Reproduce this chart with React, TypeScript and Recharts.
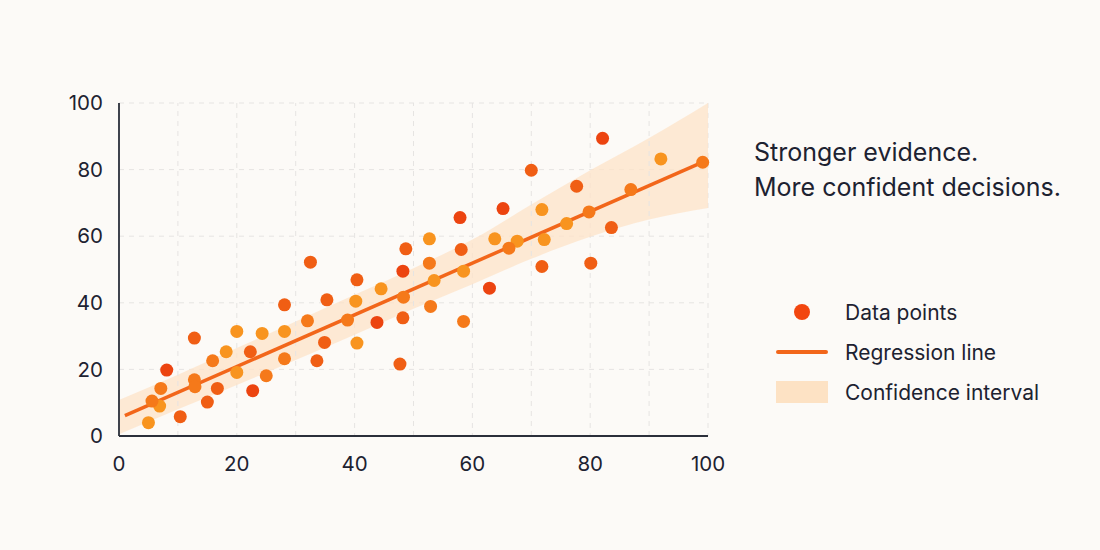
import React, { useEffect } from 'react';
import { ComposedChart, Scatter, Line, Area, XAxis, YAxis, CartesianGrid, ReferenceLine } from 'recharts';

// Axis ticks
const xTicks = [0, 20, 40, 60, 80, 100];
const yTicks = [0, 20, 40, 60, 80, 100];
const minorGridX = [10, 30, 50, 70, 90];

// Observations, grouped by dot shade (x, y)
const redPoints = [
  [8.1, 19.8], [22.7, 13.6], [43.8, 34.1], [57.9, 65.6], [62.9, 44.4],
  [65.2, 68.3], [82.1, 89.4], [48.2, 49.5],
];
const redOrangePoints = [
  [10.4, 5.8], [12.8, 29.4], [15.0, 10.2], [16.7, 14.3], [22.3, 25.3],
  [28.1, 39.4], [32.5, 52.2], [33.6, 22.6], [34.9, 28.1], [35.3, 40.9],
  [40.4, 46.9], [47.7, 21.6], [48.2, 35.5], [48.7, 56.2], [58.1, 56.0],
  [70.0, 79.8], [71.8, 50.9], [77.7, 75.0], [80.1, 51.9], [83.6, 62.6],
];
const orangePoints = [
  [5.6, 10.5], [7.1, 14.3], [12.8, 16.9], [12.9, 14.8], [15.9, 22.6],
  [25.0, 18.1], [28.1, 23.2], [32.0, 34.6], [38.8, 34.8], [48.3, 41.7],
  [52.7, 51.9], [52.9, 38.9], [58.5, 34.4], [66.2, 56.4], [79.8, 67.3],
  [86.9, 74.0], [99.1, 82.2],
];
const amberPoints = [
  [5.0, 4.0], [6.9, 9.0], [18.2, 25.3], [20.0, 31.4], [20.0, 19.1],
  [24.3, 30.8], [28.1, 31.4], [40.2, 40.5], [40.4, 27.9], [44.5, 44.2],
  [52.7, 59.2], [53.5, 46.7], [58.5, 49.5], [63.8, 59.2], [67.6, 58.5],
  [71.8, 68.0], [72.2, 59.0], [76.0, 63.8], [92.0, 83.2],
];

// Fitted line end points
const regressionX = [1, 99];
const regressionY = [6.1, 82.2];

// Confidence band
const bandX = [0, 10, 20, 30, 40, 50, 60, 70, 80, 90, 100];
const bandLow = [0.5, 8.0, 15.3, 22.8, 30.4, 38.2, 45.6, 53.2, 59.8, 65.0, 68.5];
const bandHigh = [10.8, 18.4, 26.4, 34.4, 42.4, 50.4, 59.0, 69.5, 79.8, 89.5, 100];

const toXY = (pts: number[][]) => pts.map(([x, y]) => ({ x, y }));
const lineData = regressionX.map((x, i) => ({ x, y: regressionY[i] }));
const bandData = bandX.map((x, i) => ({ x, band: [bandLow[i], bandHigh[i]] }));

const BG = '#FCFAF7';
const INK = '#1d2231';
const AXIS = '#2b2f3a';
const FONT = 'Inter, "Noto Sans", sans-serif';

const dot = (color: string, r = 6.5) => (props: any) => (
  <circle cx={props.cx} cy={props.cy} r={r} fill={color} />
);

const App: React.FC = () => {
  useEffect(() => {
    document.body.style.margin = '0';
    document.body.style.background = BG;
  }, []);

  return (
    <div style={{ position: 'relative', width: 1100, height: 550, background: BG, fontFamily: FONT, overflow: 'hidden' }}>
      <ComposedChart width={1100} height={550} margin={{ top: 103, right: 392, bottom: 84, left: 59 }}>
        <CartesianGrid stroke="#E6E4E2" strokeDasharray="5 5" />
        {minorGridX.map(v => (
          <ReferenceLine key={v} x={v} stroke="#E6E4E2" strokeDasharray="5 5" />
        ))}
        <XAxis
          type="number"
          dataKey="x"
          domain={[0, 100]}
          ticks={xTicks}
          height={30}
          tickLine={false}
          tickMargin={14}
          axisLine={{ stroke: AXIS, strokeWidth: 1.8 }}
          tick={{ fill: INK, fontSize: 20.5, fontFamily: FONT }}
        />
        <YAxis
          type="number"
          dataKey="y"
          domain={[0, 100]}
          ticks={yTicks}
          width={60}
          tickLine={false}
          tickMargin={10}
          axisLine={{ stroke: AXIS, strokeWidth: 1.8 }}
          tick={{ fill: INK, fontSize: 20.5, fontFamily: FONT }}
        />
        <Area
          data={bandData}
          dataKey="band"
          type="monotone"
          stroke="none"
          fill="#FDE3C8"
          fillOpacity={0.75}
          isAnimationActive={false}
        />
        <Line
          data={lineData}
          dataKey="y"
          type="linear"
          stroke="#F2661A"
          strokeWidth={3.5}
          dot={false}
          activeDot={false}
          isAnimationActive={false}
        />
        <Scatter data={toXY(amberPoints)} fill="#F8941F" shape={dot('#F8941F')} isAnimationActive={false} />
        <Scatter data={toXY(orangePoints)} fill="#F5791A" shape={dot('#F5791A')} isAnimationActive={false} />
        <Scatter data={toXY(redOrangePoints)} fill="#F05E14" shape={dot('#F05E14')} isAnimationActive={false} />
        <Scatter data={toXY(redPoints)} fill="#EC4410" shape={dot('#EC4410')} isAnimationActive={false} />
      </ComposedChart>

      <div style={{ position: 'absolute', left: 754, top: 135, fontSize: 25, lineHeight: '35px', color: INK }}>
        <div>Stronger evidence.</div>
        <div>More confident decisions.</div>
      </div>

      <div style={{ position: 'absolute', left: 776, top: 292, fontSize: 21, color: INK }}>
        <div style={{ display: 'flex', alignItems: 'center', height: 40 }}>
          <div style={{ width: 52, display: 'flex', justifyContent: 'center' }}>
            <div style={{ width: 16, height: 16, borderRadius: 8, background: '#F2460F' }} />
          </div>
          <span style={{ marginLeft: 17 }}>Data points</span>
        </div>
        <div style={{ display: 'flex', alignItems: 'center', height: 40 }}>
          <div style={{ width: 52, height: 4, borderRadius: 2, background: '#F2661A' }} />
          <span style={{ marginLeft: 17 }}>Regression line</span>
        </div>
        <div style={{ display: 'flex', alignItems: 'center', height: 40 }}>
          <div style={{ width: 52, height: 22, background: '#FDE2C4' }} />
          <span style={{ marginLeft: 17 }}>Confidence interval</span>
        </div>
      </div>
    </div>
  );
};

export default App;
